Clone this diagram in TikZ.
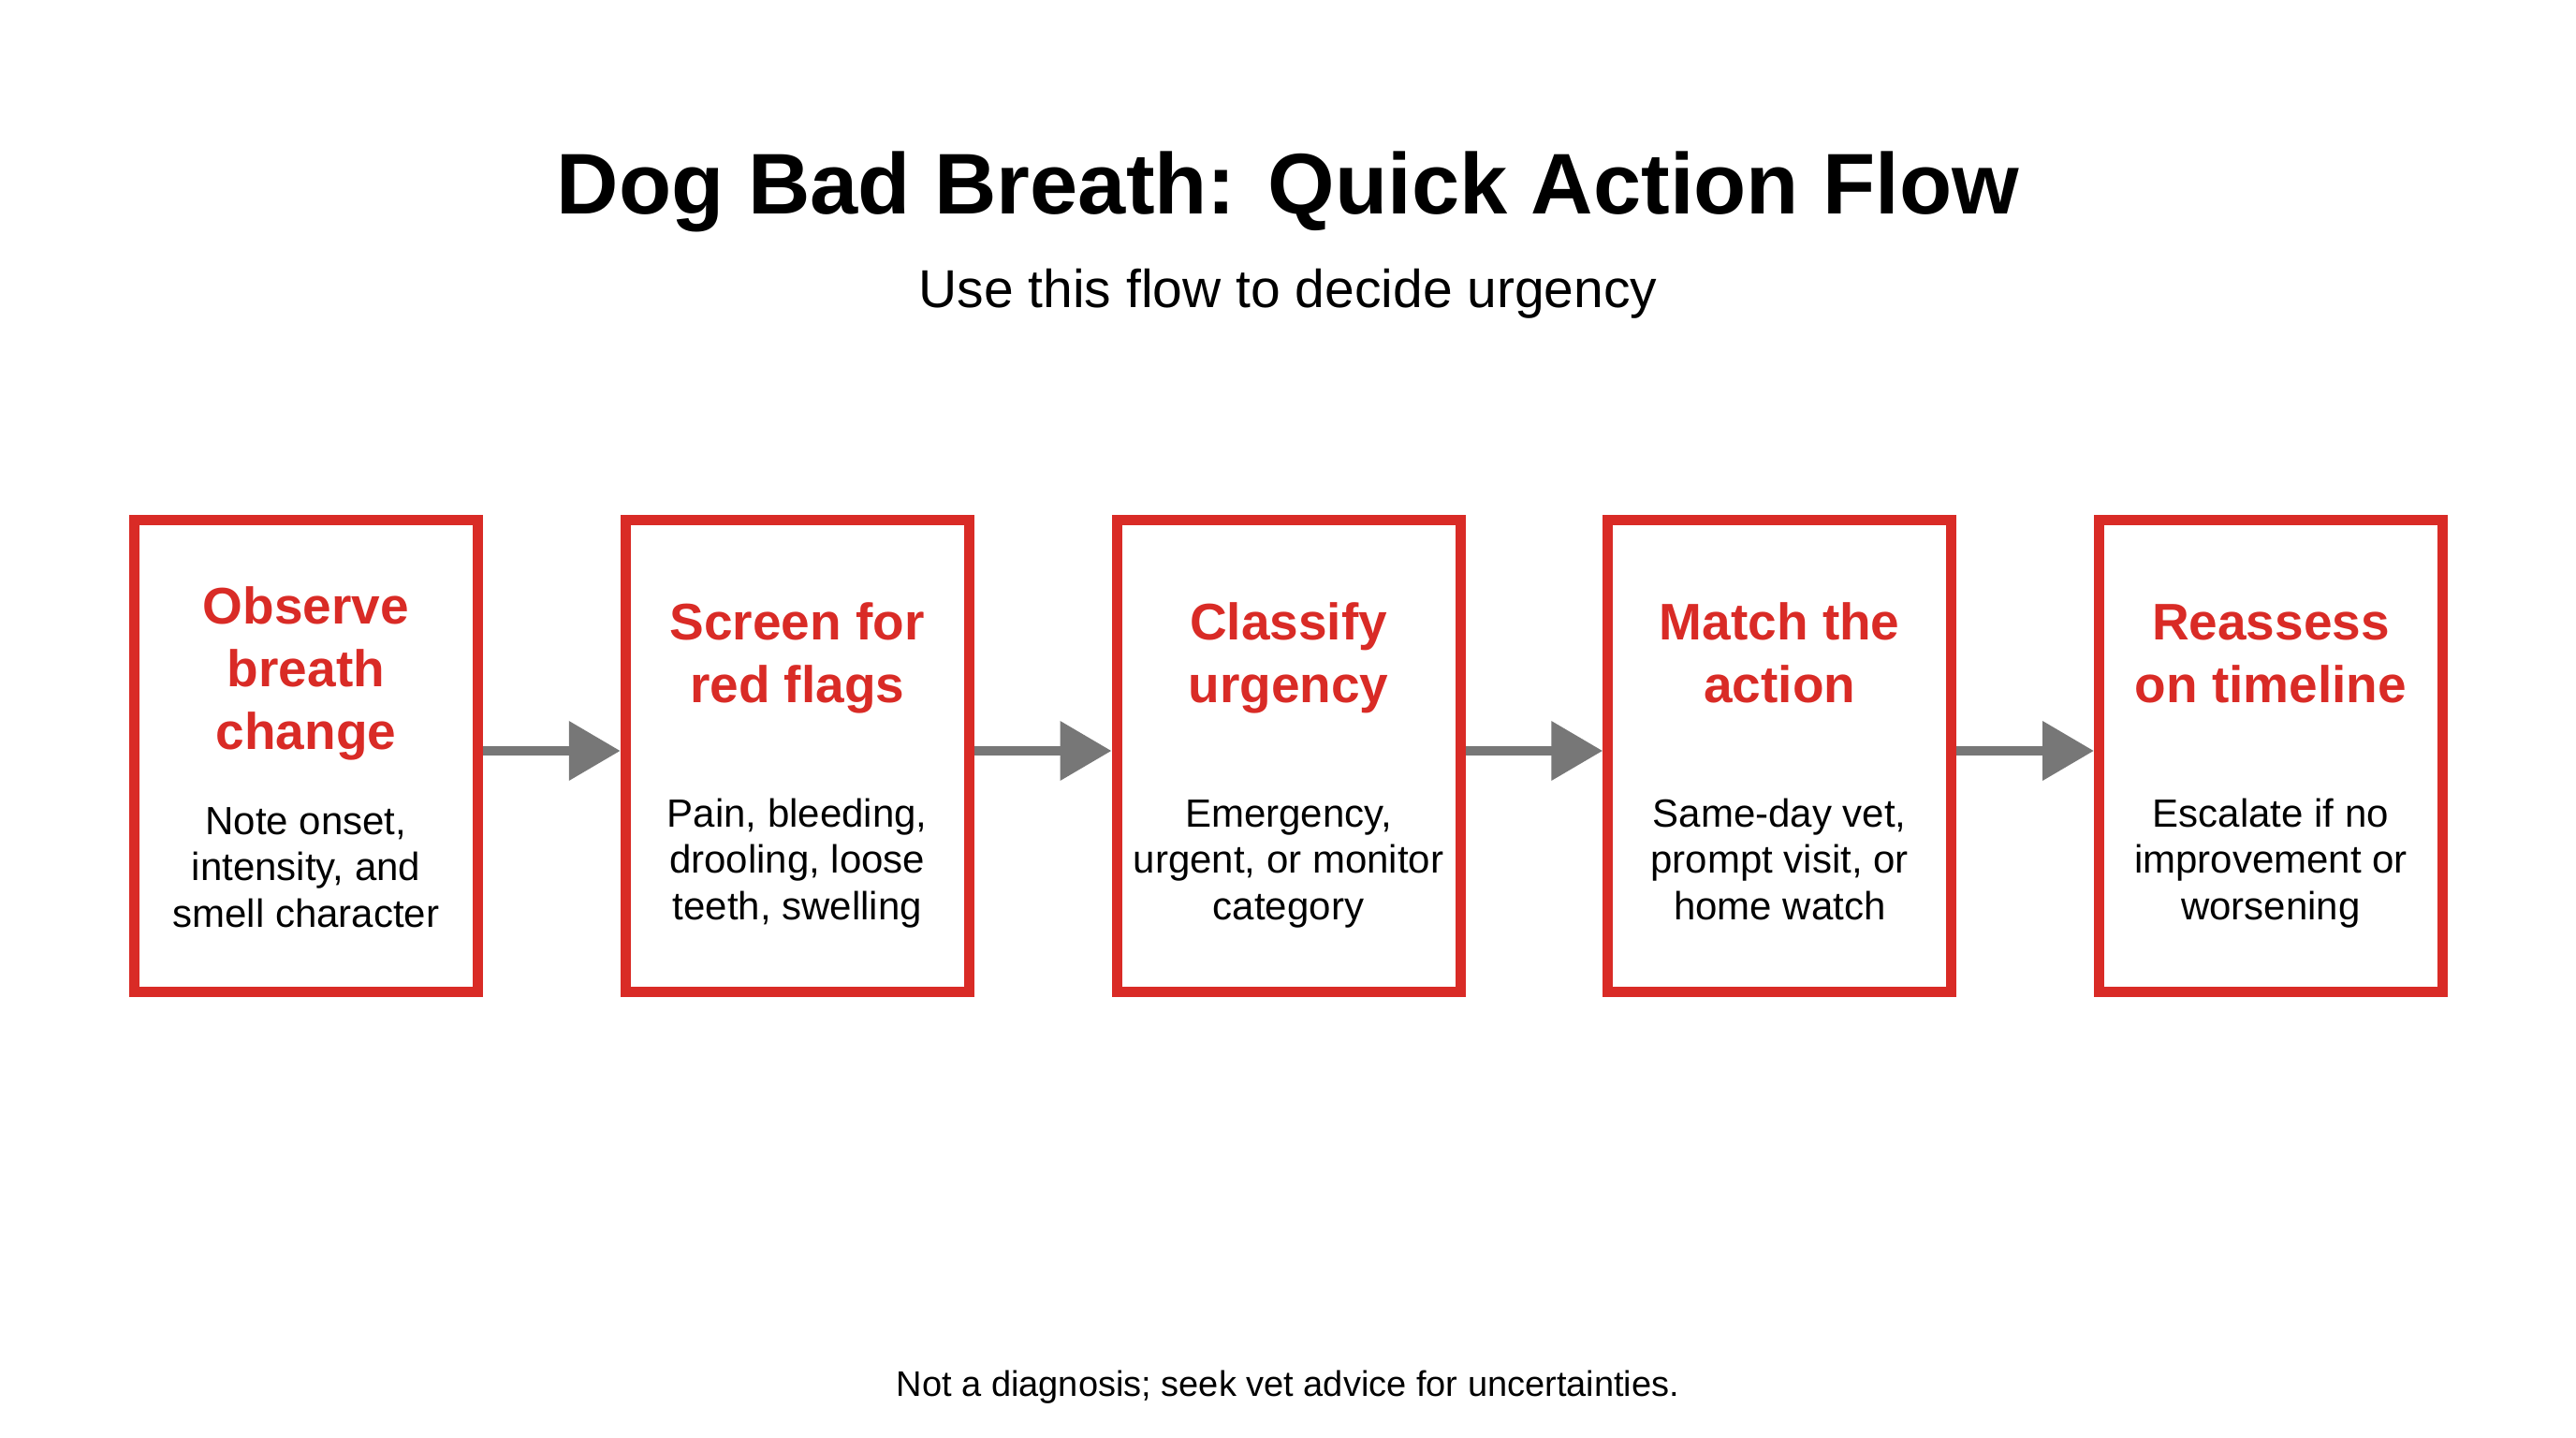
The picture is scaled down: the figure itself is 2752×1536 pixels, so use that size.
\documentclass[tikz,border=0pt]{standalone}
\usepackage{fontspec}
\setmainfont{Liberation Sans}
\usetikzlibrary{arrows.meta}
\definecolor{myred}{RGB}{217,43,38}
\definecolor{mygray}{RGB}{119,119,119}
\tikzset{
  box/.style={draw=myred, line width=5.5pt, minimum width=183.5pt, minimum height=252pt, fill=white, inner sep=0pt},
  ttl/.style={anchor=base, text=myred, font=\bfseries\fontsize{27.5}{33.5}\selectfont, inner sep=0pt},
  bdy/.style={anchor=base, text=black, font=\fontsize{21}{24.75}\selectfont, inner sep=0pt},
  flow/.style={draw=mygray, line width=5.35pt, -{Triangle[length=27.5pt,width=30.5pt]}},
}
\newcommand{\cbox}[1]{\parbox[t]{180pt}{\centering #1}}
\begin{document}
\begin{tikzpicture}[x=0.5pt,y=-0.5pt]
\useasboundingbox (0,0) rectangle (2752,1536);
\fill[white] (0,0) rectangle (2752,1536);
\node[font=\bfseries\fontsize{46}{55}\selectfont, anchor=base, inner sep=0pt] (title) at (1376,228) {Dog Bad Breath: Quick Action Flow};
\node[font=\fontsize{28.5}{34}\selectfont, anchor=base, inner sep=0pt] (sub) at (1376,328) {Use this flow to decide urgency};

\node[box] (b1) at (327,807.5) {};
\node[box] (b2) at (851.75,807.5) {};
\node[box] (b3) at (1376.5,807.5) {};
\node[box] (b4) at (1901.25,807.5) {};
\node[box] (b5) at (2426,807.5) {};

\node[ttl] (t1) at (327,666) {\cbox{Observe\\breath\\change}};
\node[bdy] (d1) at (327,891) {\cbox{Note onset,\\intensity, and\\smell character}};
\node[ttl] (t2) at (851.75,683) {\cbox{Screen for\\red flags}};
\node[bdy] (d2) at (851.75,883) {\cbox{Pain, bleeding,\\drooling, loose\\teeth, swelling}};
\node[ttl] (t3) at (1376.5,683) {\cbox{Classify\\urgency}};
\node[bdy] (d3) at (1376.5,883) {\cbox{Emergency,\\urgent, or monitor\\category}};
\node[ttl] (t4) at (1901.25,683) {\cbox{Match the\\action}};
\node[bdy] (d4) at (1901.25,883) {\cbox{Same-day vet,\\prompt visit, or\\home watch}};
\node[ttl] (t5) at (2426,683) {\cbox{Reassess\\on timeline}};
\node[bdy] (d5) at (2426,883) {\cbox{Escalate if no\\improvement or\\worsening}};

\draw[flow] ([yshift=2.75pt]b1.east) -- ([yshift=2.75pt]b2.west);
\draw[flow] ([yshift=2.75pt]b2.east) -- ([yshift=2.75pt]b3.west);
\draw[flow] ([yshift=2.75pt]b3.east) -- ([yshift=2.75pt]b4.west);
\draw[flow] ([yshift=2.75pt]b4.east) -- ([yshift=2.75pt]b5.west);

\node[font=\fontsize{19}{23}\selectfont, anchor=base, inner sep=0pt] (foot) at (1376,1491) {Not a diagnosis; seek vet advice for uncertainties.};
\end{tikzpicture}
\end{document}
